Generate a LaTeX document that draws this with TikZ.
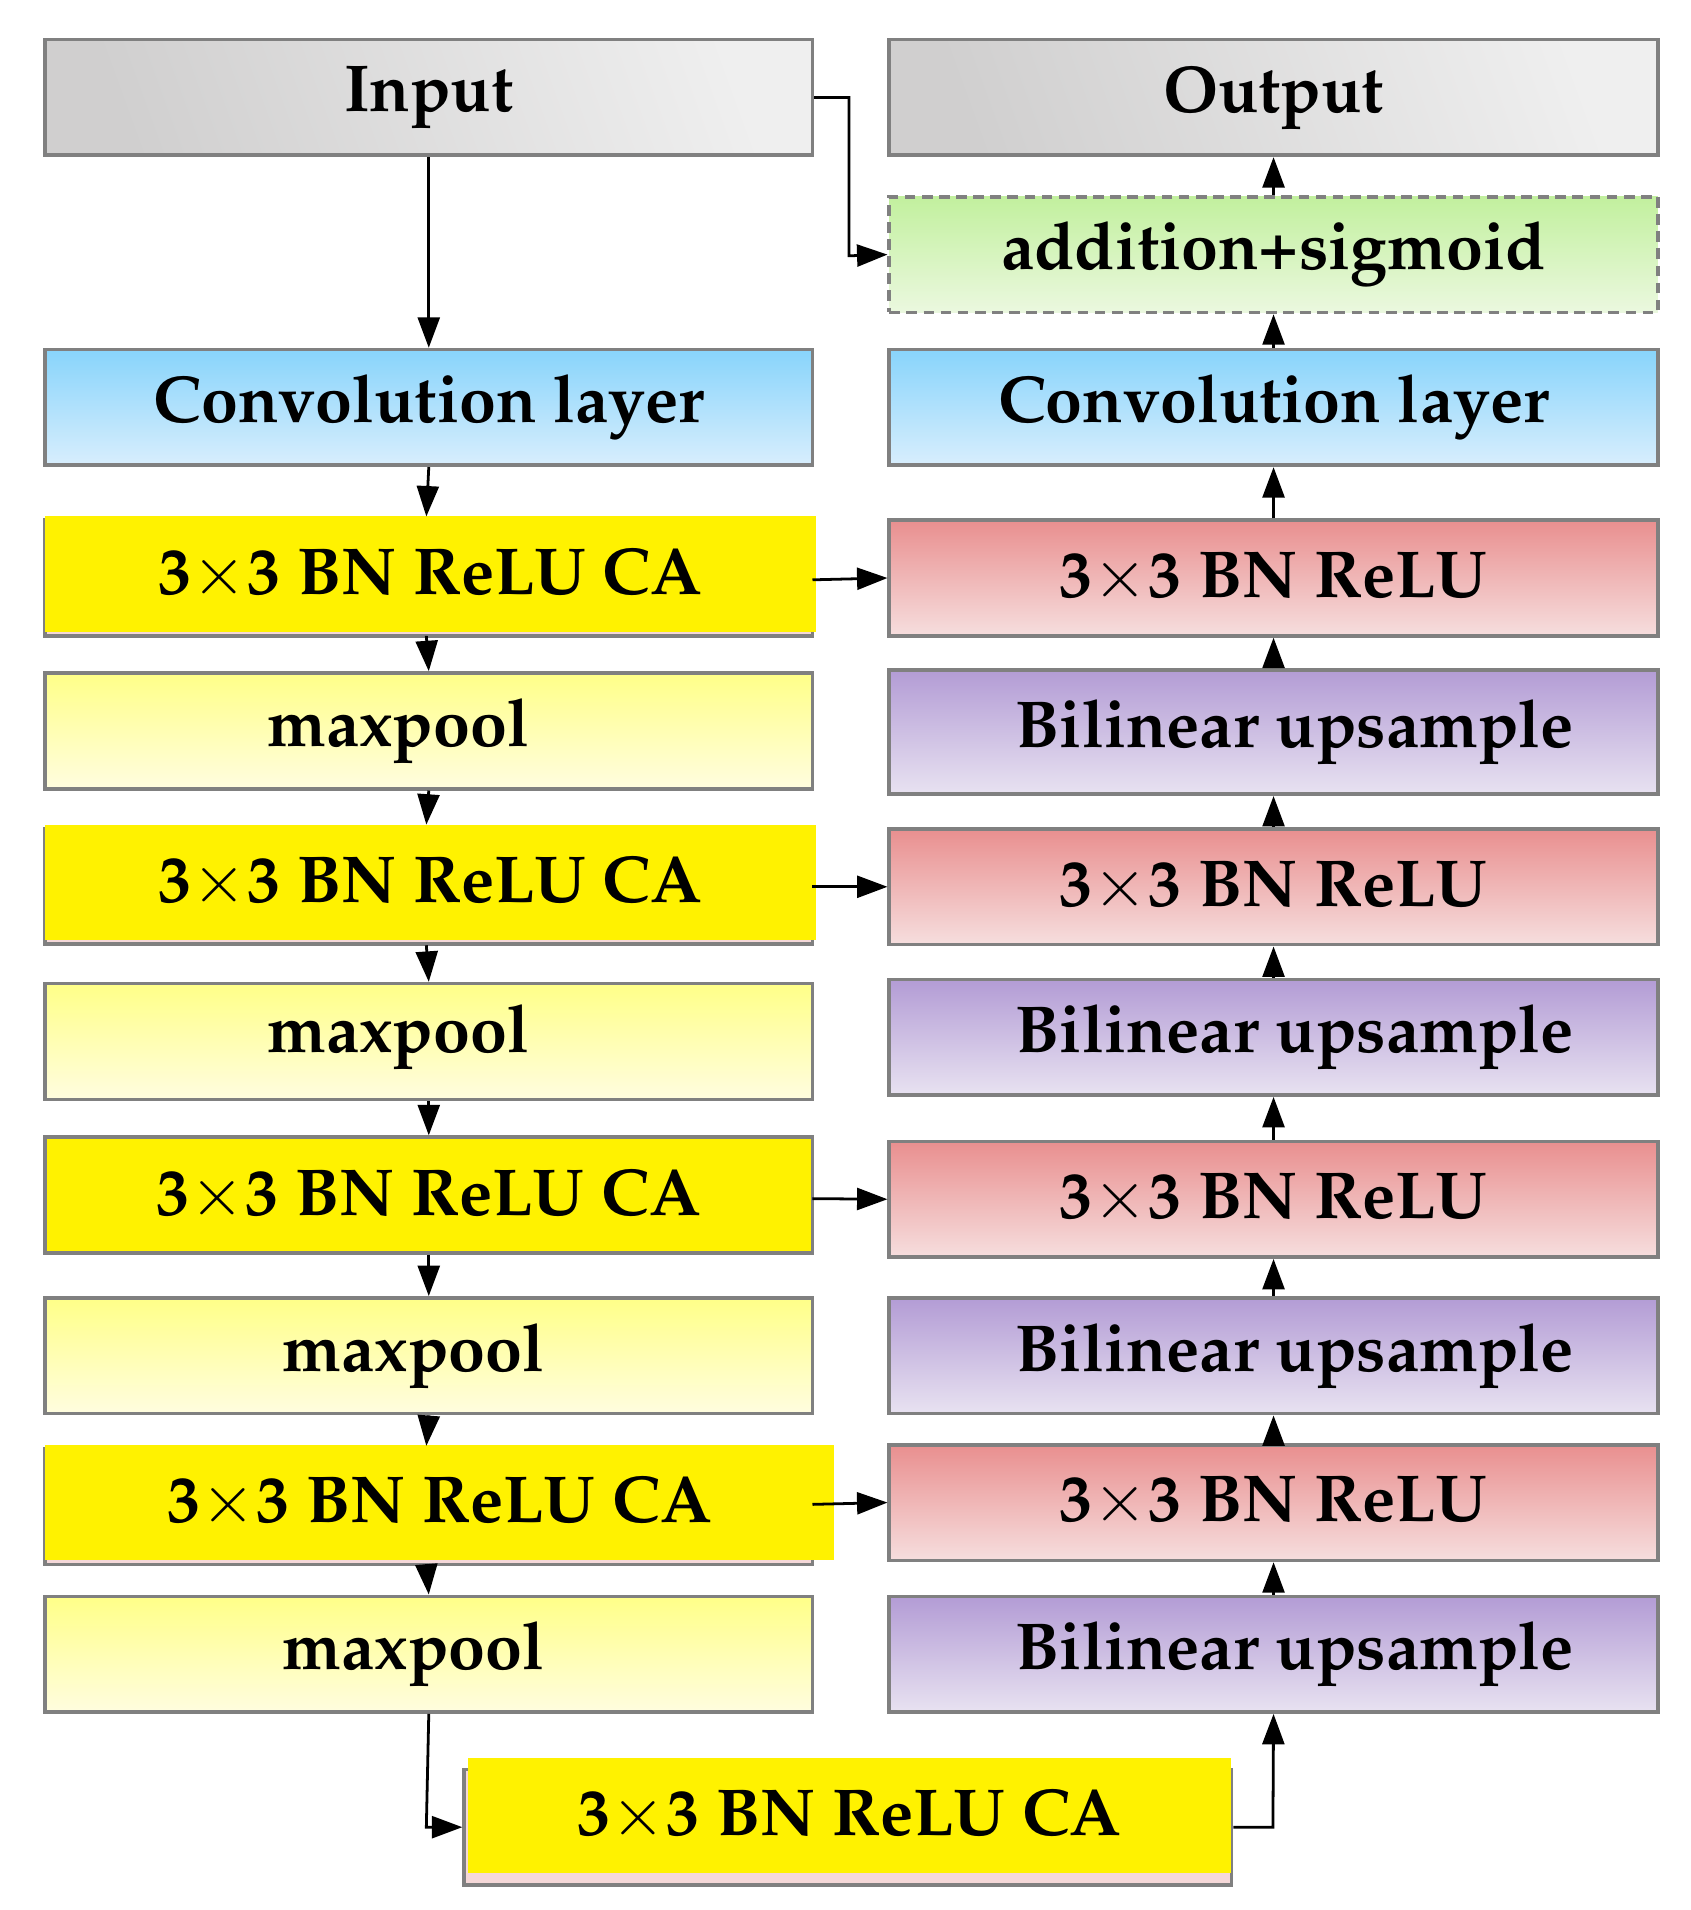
\documentclass[tikz,border=0pt]{standalone}
\usepackage[T1]{fontenc}
\usepackage{mathpazo}
\usetikzlibrary{arrows.meta}
\definecolor{bd}{HTML}{808080}
\definecolor{gA}{HTML}{D0CFCF}\definecolor{gB}{HTML}{EFEFEF}
\definecolor{bA}{HTML}{88D4FB}\definecolor{bB}{HTML}{D8EEFD}
\definecolor{rA}{HTML}{E98F8F}\definecolor{rB}{HTML}{F6DEDE}
\definecolor{pA}{HTML}{B39CD5}\definecolor{pB}{HTML}{E8E2F1}
\definecolor{yA}{HTML}{FFFF88}\definecolor{yB}{HTML}{FFFDDF}
\definecolor{grA}{HTML}{C2F09E}\definecolor{grB}{HTML}{EBF8DF}
\definecolor{pk}{HTML}{F5D8D8}
\tikzset{
 x=0.02cm,y=-0.02cm,
 base/.style={draw=bd,line width=1.7pt,inner sep=0pt,font=\fontsize{31}{34}\selectfont\bfseries,text=black},
 L/.style={base,minimum width=12.6cm,minimum height=1.9cm},
 R/.style={base,minimum width=12.62cm,minimum height=1.9cm},
 gray/.style={left color=gA,right color=gB,shading angle=110},
 blue/.style={top color=bA,bottom color=bB},
 red/.style={top color=rA,bottom color=rB},
 purple/.style={top color=pA,bottom color=pB},
 lyel/.style={top color=yA,bottom color=yB},
 green/.style={top color=grA,bottom color=grB,dashed,dash pattern=on 5pt off 3pt},
 ca/.style={base,draw=none,fill=yellow,minimum height=1.9cm},
 pinkb/.style={draw=bd,line width=1.7pt,fill=pk,minimum height=1.9cm},
 arr/.style={line width=1.3pt,-{Triangle[length=0.5cm,width=0.36cm]}}
}
\begin{document}
\begin{tikzpicture}
\useasboundingbox (0,0) rectangle (1388,1568);
% left column
\node[L,gray] (in) at (352,80) {Input};
\node[L,blue] (c1) at (352,334.5) {Convolution layer};
\node[pinkb,minimum width=12.6cm] (p1) at (352,474.5) {};
\node[ca,minimum width=12.66cm] (e1) at (353.5,471) {3$\times$3 BN ReLU CA};
\node[L,lyel] (m1) at (352,600) {\hspace*{-1cm}maxpool};
\node[pinkb,minimum width=12.6cm] (p2) at (352,727.5) {};
\node[ca,minimum width=12.66cm] (e2) at (353.5,724.5) {3$\times$3 BN ReLU CA};
\node[L,lyel] (m2) at (352,855) {\hspace*{-1cm}\raisebox{12pt}{maxpool}};
\node[L,ca,draw=bd,fill=yellow] (e3) at (352,981) {3$\times$3 BN ReLU CA};
\node[L,lyel] (m3) at (352,1113) {\hspace*{-0.5cm}maxpool};
\node[pinkb,minimum width=12.6cm] (p4) at (352,1237) {};
\node[ca,minimum width=12.96cm] (e4) at (361,1233.5) {3$\times$3 BN ReLU CA};
\node[L,lyel] (m4) at (352,1358) {\hspace*{-0.5cm}maxpool};
\node[pinkb,minimum width=12.6cm] (p5) at (696,1500) {};
\node[ca,minimum width=12.54cm] (e5) at (697.5,1490.5) {\raisebox{-6pt}{3$\times$3 BN ReLU CA}};
% right column
\node[R,gray] (out) at (1045.5,80) {Output};
\node[R,green] (add) at (1045.5,209) {\raisebox{8pt}{addition+sigmoid}};
\node[R,blue] (c2) at (1045.5,334.5) {Convolution layer};
\node[R,red] (r1) at (1045.5,474.5) {3$\times$3 BN ReLU};
\node[R,purple,minimum height=2.04cm] (b1) at (1045.5,601) {\hspace*{0.7cm}Bilinear upsample};
\node[R,red] (r2) at (1045.5,728) {3$\times$3 BN ReLU};
\node[R,purple] (b2) at (1045.5,851.5) {\hspace*{0.7cm}Bilinear upsample};
\node[R,red] (r3) at (1045.5,984.5) {3$\times$3 BN ReLU};
\node[R,purple] (b3) at (1045.5,1113) {\raisebox{8pt}{\hspace*{0.7cm}Bilinear upsample}};
\node[R,red] (r4) at (1045.5,1233.5) {3$\times$3 BN ReLU};
\node[R,purple] (b4) at (1045.5,1358) {\raisebox{8pt}{\hspace*{0.7cm}Bilinear upsample}};
% down arrows
\draw[arr] (in.south) -- (c1.north);
\draw[arr] (c1.south) -- (350,424);
\draw[arr] (350,522) -- (m1.north);
\draw[arr] (m1.south) -- (350,677);
\draw[arr] (350,776) -- (m2.north);
\draw[arr] (m2.south) -- (e3.north);
\draw[arr] (e3.south) -- (m3.north);
\draw[arr] (m3.south) -- (350,1187);
\draw[arr] (350,1284) -- (m4.north);
\coordinate (k1) at (350,1500);
\draw[arr] (m4.south) -- (k1) -- (p5.west);
\coordinate (k2) at (1045,1500);
\draw[arr] (p5.east) -- (k2) -- (b4.south);
% up arrows
\draw[arr] (b4.north) -- (r4.south);
\draw[arr] (r4.north) -- (b3.south);
\draw[arr] (b3.north) -- (r3.south);
\draw[arr] (r3.north) -- (b2.south);
\draw[arr] (b2.north) -- (r2.south);
\draw[arr] (r2.north) -- (b1.south);
\draw[arr] (b1.north) -- (r1.south);
\draw[arr] (r1.north) -- (c2.south);
\draw[arr] (c2.north) -- (add.south);
\draw[arr] (add.north) -- (out.south);
% skips
\draw[arr] (667,476) -- (r1.west);
\draw[arr] (667,728) -- (r2.west);
\draw[arr] (667,984) -- (r3.west);
\draw[arr] (667,1235) -- (r4.west);
\coordinate (k3) at (697,80);
\coordinate (k4) at (697,210);
\draw[arr] (in.east) -- (k3) -- (k4) -- (add.west);
\end{tikzpicture}
\end{document}
